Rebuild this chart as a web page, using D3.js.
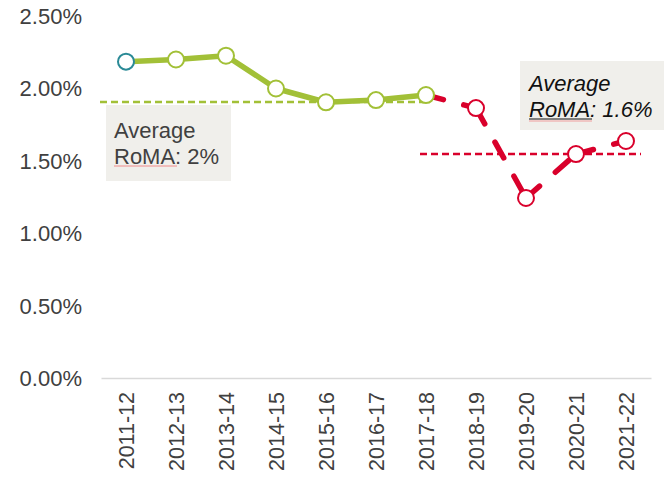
<!DOCTYPE html>
<html>
<head>
<meta charset="utf-8">
<script src="https://cdn.jsdelivr.net/npm/d3@7"></script>
<style>
    html, body { margin: 0; padding: 0; background: #fff; }
    svg text { font-family: "Liberation Sans", Arial, sans-serif; }
</style>
</head>
<body>
<div id="chart"></div>
<script>
// Chart data
const categories = ['2011-12', '2012-13', '2013-14', '2014-15', '2015-16', '2016-17',
    '2017-18', '2018-19', '2019-20', '2020-21', '2021-22'];
const pastValues = [2.185, 2.20, 2.226, 2.00, 1.905, 1.92, 1.955];
const futureCategories = ['2017-18', '2018-19', '2019-20', '2020-21', '2021-22'];
const futureValues = [1.955, 1.865, 1.245, 1.548, 1.638];
const yTicks = [0, 0.5, 1, 1.5, 2, 2.5];
const pastAverage = 1.907;
const futureAverage = 1.548;

const green = '#a2c037';
const red = '#d9002b';
const teal = '#2a8a96';
const textGrey = '#404040';

const svg = d3.select('#chart')
    .append('svg')
    .attr('width', 672)
    .attr('height', 479);

const x = d3.scaleBand()
    .domain(categories)
    .range([101, 651]);

const y = d3.scaleLinear()
    .domain([0, 2.5])
    .range([378.5, 16]);

const cx = c => x(c) + x.bandwidth() / 2;

// Y axis labels (no line)
const yAxis = svg.append('g')
    .attr('transform', 'translate(82,0)')
    .call(d3.axisLeft(y).tickValues(yTicks).tickSize(0).tickPadding(0)
        .tickFormat(d => d.toFixed(2) + '%'));
yAxis.select('.domain').remove();
yAxis.selectAll('text')
    .style('font-size', '22px')
    .attr('fill', textGrey);

// X axis
const xAxis = svg.append('g')
    .attr('transform', 'translate(0,378)')
    .call(d3.axisBottom(x).tickSize(0));
xAxis.select('.domain')
    .attr('stroke', '#d9d9d9')
    .attr('stroke-width', 1.5);
xAxis.selectAll('text')
    .style('font-size', '21.5px')
    .attr('fill', textGrey)
    .attr('transform', 'rotate(-90)')
    .attr('text-anchor', 'end')
    .attr('x', -14)
    .attr('y', 0)
    .attr('dy', '0.36em');

// Average lines
svg.append('line')
    .attr('x1', 100).attr('x2', 428)
    .attr('y1', y(pastAverage)).attr('y2', y(pastAverage))
    .attr('stroke', green)
    .attr('stroke-width', 2.5)
    .attr('stroke-dasharray', '7,4');

svg.append('line')
    .attr('x1', 420).attr('x2', 641)
    .attr('y1', y(futureAverage)).attr('y2', y(futureAverage))
    .attr('stroke', red)
    .attr('stroke-width', 2.5)
    .attr('stroke-dasharray', '7,4');

// Past series, solid
const line = d3.line()
    .x(d => cx(d.c))
    .y(d => y(d.v));

const past = categories.slice(0, pastValues.length).map((c, i) => ({ c: c, v: pastValues[i] }));
const future = futureCategories.map((c, i) => ({ c: c, v: futureValues[i] }));

svg.append('path')
    .datum(past)
    .attr('fill', 'none')
    .attr('stroke', green)
    .attr('stroke-width', 5.5)
    .attr('stroke-linejoin', 'round')
    .attr('d', line);

// Projected series, dashed per segment
for (let i = 0; i < future.length - 1; i++) {
    svg.append('path')
        .datum([future[i], future[i + 1]])
        .attr('fill', 'none')
        .attr('stroke', red)
        .attr('stroke-width', 5.5)
        .attr('stroke-linecap', 'round')
        .attr('stroke-dasharray', '18,21')
        .attr('d', line);
}

// Markers
svg.selectAll('.past-dot')
    .data(past)
    .enter()
    .append('circle')
    .attr('cx', d => cx(d.c))
    .attr('cy', d => y(d.v))
    .attr('r', 8)
    .attr('fill', '#fff')
    .attr('stroke', (d, i) => i === 0 ? teal : green)
    .attr('stroke-width', 2);

svg.selectAll('.future-dot')
    .data(future.slice(1))
    .enter()
    .append('circle')
    .attr('cx', d => cx(d.c))
    .attr('cy', d => y(d.v))
    .attr('r', 8)
    .attr('fill', '#fff')
    .attr('stroke', red)
    .attr('stroke-width', 2);

// Annotation boxes
const box1 = svg.append('g');
box1.append('rect')
    .attr('x', 106).attr('y', 105)
    .attr('width', 125).attr('height', 76)
    .attr('fill', '#f0efeb');
box1.append('text')
    .attr('x', 114).attr('y', 138)
    .style('font-size', '22px')
    .attr('fill', textGrey)
    .text('Average');
box1.append('text')
    .attr('x', 114).attr('y', 164)
    .style('font-size', '22px')
    .attr('fill', textGrey)
    .text('RoMA: 2%');
box1.append('line')
    .attr('x1', 114).attr('x2', 177)
    .attr('y1', 166).attr('y2', 166)
    .attr('stroke', '#f08a8a')
    .attr('stroke-width', 1);

const box2 = svg.append('g');
box2.append('rect')
    .attr('x', 520).attr('y', 61)
    .attr('width', 144).attr('height', 69)
    .attr('fill', '#f0efeb');
box2.append('text')
    .attr('x', 529).attr('y', 91)
    .style('font-size', '22px')
    .style('font-style', 'italic')
    .attr('fill', '#111')
    .text('Average');
box2.append('text')
    .attr('x', 529).attr('y', 117)
    .style('font-size', '22px')
    .style('font-style', 'italic')
    .attr('fill', '#111')
    .text('RoMA: 1.6%');
box2.append('line')
    .attr('x1', 529).attr('x2', 592)
    .attr('y1', 119).attr('y2', 119)
    .attr('stroke', '#111')
    .attr('stroke-width', 1);
box2.append('line')
    .attr('x1', 529).attr('x2', 592)
    .attr('y1', 121).attr('y2', 121)
    .attr('stroke', '#f08a8a')
    .attr('stroke-width', 0.8);
</script>
</body>
</html>
